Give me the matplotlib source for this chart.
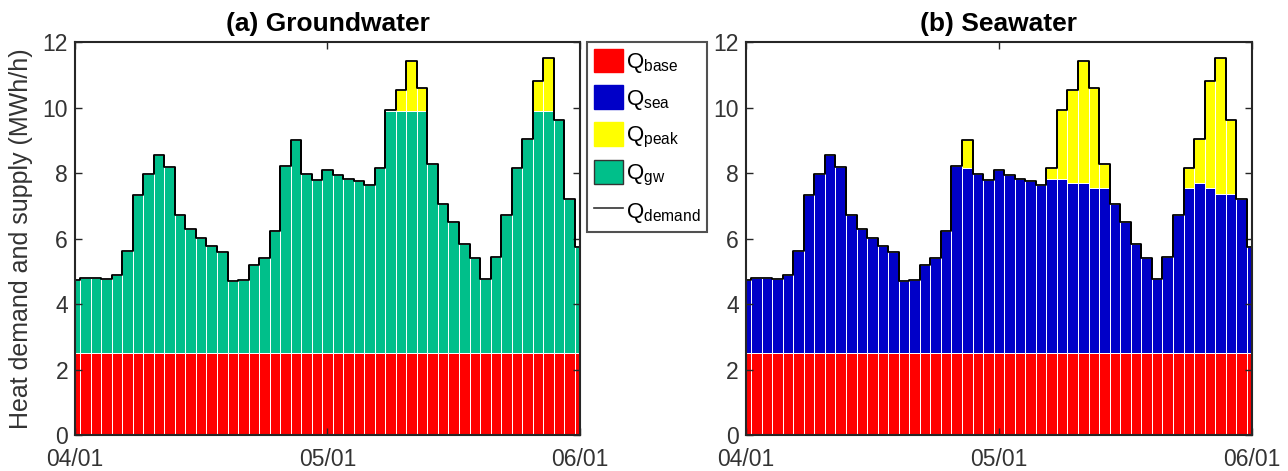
import numpy as np
from matplotlib import pyplot as plt
from matplotlib.patches import Patch
from matplotlib.lines import Line2D

plt.rcParams['font.family'] = ['Liberation Sans', 'DejaVu Sans']
plt.rcParams['mathtext.default'] = 'regular'

# hourly heat demand (MWh/h), 04/01 00:00 .. 06/01 00:00
hours = np.arange(49)
q_demand = [4.73, 4.80, 4.78, 4.76, 4.88, 5.62, 7.34, 7.96, 8.54, 8.19,
            6.71, 6.28, 6.03, 5.77, 5.59, 4.70, 4.73, 5.19, 5.39, 6.23,
            8.22, 9.02, 7.98, 7.78, 8.08, 7.93, 7.81, 7.75, 7.62, 8.14,
            9.91, 10.54, 11.42, 10.59, 8.29, 7.05, 6.49, 5.82, 5.39, 4.76,
            5.44, 6.71, 8.16, 9.05, 10.80, 11.51, 9.63, 7.22, 5.73]
q_base = 2.5
gw_top = 9.9
# top of seawater supply in panel (b)
sea_top = [4.73, 4.80, 4.78, 4.76, 4.88, 5.62, 7.34, 7.96, 8.54, 8.19,
           6.71, 6.28, 6.03, 5.77, 5.59, 4.70, 4.73, 5.19, 5.39, 6.23,
           8.22, 8.14, 7.98, 7.78, 8.08, 7.93, 7.81, 7.75, 7.62, 7.83,
           7.83, 7.68, 7.68, 7.53, 7.53, 7.05, 6.49, 5.82, 5.39, 4.76,
           5.44, 6.71, 7.53, 7.68, 7.53, 7.37, 7.37, 7.22, 5.73]
tick_pos = [0, 24, 48]
tick_labels = ['04/01', '05/01', '06/01']

c_base = '#FF0000'
c_sea = '#0000C8'
c_peak = '#FFFF00'
c_gw = '#00BF8A'
spine_c = '#262626'
text_c = '#333333'

demand = np.array(q_demand)
gw_t = np.minimum(demand, gw_top)
sea_t = np.array(sea_top)

fig = plt.figure(figsize=(12.88, 4.71), dpi=100)
ax1 = fig.add_axes([0.0582, 0.0764, 0.3921, 0.8344])
ax2 = fig.add_axes([0.5790, 0.0764, 0.3931, 0.8344])

bar_kw = dict(width=1.0, edgecolor='white', linewidth=0.7)


def draw(ax, mid_top, mid_color, title):
    base = np.full(len(hours), q_base)
    ax.bar(hours, base, color=c_base, **bar_kw)
    ax.bar(hours, mid_top - q_base, bottom=base, color=mid_color, **bar_kw)
    ax.bar(hours, demand - mid_top, bottom=mid_top, color=c_peak, **bar_kw)
    ax.step(hours, demand, where='mid', color='black', lw=1.3)
    ax.vlines(hours[:-1] + 0.5, np.minimum(demand[:-1], demand[1:]),
              np.maximum(demand[:-1], demand[1:]), color='black', lw=1.3)
    ax.set_xlim(0, 48)
    ax.set_ylim(0, 12)
    ax.set_yticks(range(0, 13, 2))
    ax.set_xticks(tick_pos)
    ax.set_xticklabels(tick_labels)
    ax.tick_params(direction='in', top=True, right=True, labelsize=16.5,
                   length=5, width=1, color=spine_c, labelcolor=text_c)
    ax.tick_params(axis='x', pad=9.5)
    ax.tick_params(axis='y', pad=5)
    for s in ax.spines.values():
        s.set_color(spine_c)
        s.set_linewidth(1.5)
    ax.set_title(title, fontsize=19, fontweight='bold', pad=8)


draw(ax1, gw_t, c_gw, '(a) Groundwater')
draw(ax2, sea_t, c_sea, '(b) Seawater')
ax1.set_ylabel('Heat demand and supply (MWh/h)', fontsize=18, color=text_c, labelpad=7)

handles = [Patch(facecolor=c_base, edgecolor=c_base),
           Patch(facecolor=c_sea, edgecolor=c_sea),
           Patch(facecolor=c_peak, edgecolor=c_peak),
           Patch(facecolor=c_gw, edgecolor='#333333'),
           Line2D([], [], color='#333333', lw=1.2)]
labels = ['Q$_{base}$', 'Q$_{sea}$', 'Q$_{peak}$', 'Q$_{gw}$', 'Q$_{demand}$']
leg = fig.legend(handles, labels, loc='upper left', bbox_to_anchor=(0.456, 0.911),
                 fontsize=16, frameon=True, fancybox=False, borderaxespad=0,
                 handlelength=1.3, handleheight=1.26, handletextpad=0.12,
                 labelspacing=0.47, borderpad=0.3)
leg.get_frame().set_edgecolor(spine_c)
leg.get_frame().set_linewidth(1.5)

fig.savefig('out.png', dpi=100)
